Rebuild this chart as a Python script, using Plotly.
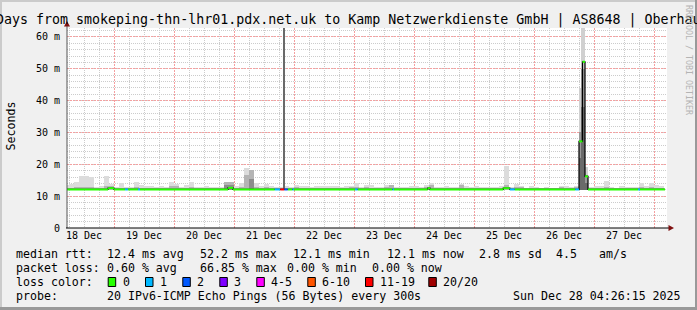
import plotly.graph_objects as go
from datetime import datetime, timedelta

# ---------------- data ----------------
T0 = datetime(2025, 12, 18)          # hours below are counted from 18 Dec 00:00
VIEW_START_H = 5.2
VIEW_END_H = 245.2
Y_MAX = 62.8

SMOKE_FIRST_BIN_H = 4.0               # 2-hour smoke bins
SMOKE_BIN_H = 2.0
SMOKE_FLOOR = 12.0                    # ms, lowest ping

smoke_hi = [
    13.4, 13.8, 14.6, 16.2, 16.2, 16.0, 13.0, 13.2, 16.2, 13.9,
    13.0, 14.1, 13.0, 13.0, 14.3, 13.6, 13.3, 13.3, 13.0, 13.3,
    12.9, 14.3, 13.9, 12.9, 13.6, 14.3, 12.9, 13.0, 13.3, 12.9,
    12.9, 12.9, 14.3, 14.3, 13.1, 14.1, 18.8, 18.1, 14.1, 13.1,
    13.9, 13.3, 12.9, 12.9, 13.1, 12.9, 13.6, 13.1, 13.3, 12.9,
    13.3, 13.3, 13.1, 13.3, 13.1, 12.9, 13.1, 13.1, 14.1, 12.9,
    13.6, 13.6, 12.9, 12.9, 13.6, 13.6, 12.9, 12.9, 12.9, 13.3,
    13.3, 12.9, 13.6, 14.1, 12.9, 12.9, 13.1, 12.9, 12.9, 13.9,
    13.1, 12.9, 13.3, 12.9, 12.9, 12.9, 12.9, 13.3, 19.6, 12.9,
    13.9, 13.1, 12.6, 13.3, 12.9, 12.6, 12.9, 12.6, 12.6, 13.1,
    13.3, 12.9, 13.1, 12.9, 12.9, 12.9, 13.3, 13.1, 14.9, 12.9,
    12.6, 13.1, 12.9, 12.9, 12.9, 14.1, 13.1, 14.1, 13.6, 13.1,
]
smoke_mid = [
    12.5, 12.6, 12.8, 13.0, 13.0, 12.8, 12.5, 12.5, 13.3, 13.3,
    12.5, 12.6, 12.5, 12.5, 12.8, 12.6, 12.5, 12.5, 12.5, 12.5,
    12.5, 13.3, 13.3, 12.5, 12.6, 12.8, 12.5, 12.5, 12.5, 12.5,
    12.5, 12.5, 14.3, 14.3, 12.6, 12.8, 16.5, 18.1, 12.8, 12.5,
    12.8, 12.6, 12.5, 12.5, 12.5, 12.5, 12.8, 12.5, 12.5, 12.5,
    12.6, 12.6, 12.5, 12.6, 12.5, 12.5, 12.6, 13.0, 12.8, 12.5,
    12.8, 12.6, 12.5, 12.5, 12.8, 13.6, 12.5, 12.5, 12.5, 12.6,
    12.6, 12.5, 12.8, 13.6, 12.5, 12.5, 12.5, 12.5, 12.5, 13.5,
    12.5, 12.5, 12.6, 12.5, 12.5, 12.5, 12.5, 12.6, 13.5, 12.5,
    12.8, 13.0, 12.5, 12.6, 12.5, 12.5, 12.5, 12.5, 12.5, 12.9,
    12.6, 12.5, 12.9, 12.5, 12.5, 12.5, 12.6, 12.5, 13.0, 12.5,
    12.5, 12.6, 12.5, 12.5, 12.5, 12.8, 12.5, 12.8, 12.6, 12.5,
]
dark_bins = [32, 33, 37]
dark_tops = [13.5, 13.5, 15.5]

# narrow smoke columns (spikes), hours from 18 Dec 00:00
spike_start_h = [91.6, 209.8, 210.9, 212.4]
spike_end_h = [92.4, 210.9, 212.4, 213.6]
spike_hi = [63.0, 44.0, 63.0, 19.3]
spike_mid = [63.0, 30.0, 50.0, 16.5]
spike_dark = [63.0, 22.0, 38.0, 14.0]

# median rtt, step segments: start hour, value (ms), lost pings (of 20)
med_t = [5.2, 21.6, 24.0, 28.4, 29.6, 33.6, 34.4, 69.6, 71.6, 88.3,
         90.5, 92.1, 93.5, 95.4, 96.0, 120.4, 121.5, 135.4, 136.0, 149.5,
         150.4, 179.7, 182.3, 184.3, 208.5, 210.0, 211.4, 212.4, 213.6, 233.6,
         234.4]
med_v = [12.1, 12.5, 12.1, 12.1, 12.1, 12.1, 12.1, 12.6, 12.1, 12.1,
         12.1, 12.1, 12.1, 12.1, 12.1, 12.1, 12.1, 12.1, 12.1, 12.5,
         12.1, 12.5, 12.1, 12.1, 12.1, 27.2, 52.2, 16.2, 12.1, 12.1,
         12.1]
med_loss = [0, 0, 0, 1, 0, 1, 0, 0, 0, 1,
            15, 2, 0, 1, 0, 1, 0, 1, 0, 0,
            0, 0, 1, 0, 1, 0, 0, 0, 0, 1,
            0]
MED_END_H = 244.4

loss_labels = ["0", "1", "2", "3", "4-5", "6-10", "11-19", "20/20"]
loss_upper = [0, 1, 2, 3, 5, 10, 19, 20]
loss_colors = ["#26ff00", "#00b8ff", "#0059ff", "#7e00ff", "#ff00ff", "#ff5500", "#ff0000", "#a00000"]

y_tickvals = [0, 10, 20, 30, 40, 50, 60]
y_ticktext = ["0", "10 m", "20 m", "30 m", "40 m", "50 m", "60 m"]

title_text = "10 Days from smokeping-thn-lhr01.pdx.net.uk to Kamp Netzwerkdienste GmbH | AS8648 | Oberhausen"
legend_rows = [
    [("median rtt:", 16), ("12.4 ms avg", 107.3), ("52.2 ms max", 200), ("12.1 ms min", 293.3),
     ("12.1 ms now", 386.7), ("2.8 ms sd", 479.3), ("4.5", 556.3), ("am/s", 599.3)],
    [("packet loss:", 16), ("0.60 % avg", 107.3), ("66.85 % max", 200), ("0.00 % min", 286.7),
     ("0.00 % now", 371.7)],
    [("loss color:", 16)],
    [("probe:", 16), ("20 IPv6-ICMP Echo Pings (56 Bytes) every 300s", 107.3),
     ("Sun Dec 28 04:26:15 2025", 513.3)],
]
legend_row_y = [254.3, 268.3, 282.3, 296.0]
loss_label_x = [122.7, 160, 197.3, 234.3, 271.3, 322.3, 380, 443.3]

# ---------------- helpers ----------------
def t(h):
    return T0 + timedelta(hours=h)

L, R, TOP, BOT, W, H = 67, 667, 28, 228, 697, 310
def px(x):
    return (x - L) / (R - L)
def py(y):
    return (BOT - y) / (BOT - TOP)

MONO = "DejaVu Sans Mono"
fig = go.Figure()

# smoke bins
n = len(smoke_hi)
centers = [t(SMOKE_FIRST_BIN_H + SMOKE_BIN_H * (k + 0.5)) for k in range(n)]
wms = SMOKE_BIN_H * 3600 * 1000
fig.add_trace(go.Bar(x=centers, y=[v - SMOKE_FLOOR for v in smoke_hi], base=SMOKE_FLOOR,
                     width=wms, marker=dict(color="#dcdcdc", line=dict(width=0)), hoverinfo="skip"))
fig.add_trace(go.Bar(x=centers, y=[v - SMOKE_FLOOR for v in smoke_mid], base=SMOKE_FLOOR,
                     width=wms, marker=dict(color="#b4b4b4", line=dict(width=0)), hoverinfo="skip"))
fig.add_trace(go.Bar(x=[centers[k] for k in dark_bins], y=[v - SMOKE_FLOOR for v in dark_tops],
                     base=SMOKE_FLOOR, width=wms, marker=dict(color="#8c8c8c", line=dict(width=0)),
                     hoverinfo="skip"))

# spike columns
sc = [t((a + b) / 2) for a, b in zip(spike_start_h, spike_end_h)]
sw = [(b - a) * 3600 * 1000 for a, b in zip(spike_start_h, spike_end_h)]
for vals, col in ((spike_hi, "#d0d0d0"), (spike_mid, "#9a9a9a"), (spike_dark, "#6a6a6a")):
    fig.add_trace(go.Bar(x=sc, y=[v - SMOKE_FLOOR for v in vals], base=SMOKE_FLOOR, width=sw,
                         marker=dict(color=col, line=dict(width=0)), hoverinfo="skip"))

# median: thin black step line (shows the vertical jumps)
fig.add_trace(go.Scatter(x=[t(h) for h in med_t] + [t(MED_END_H)], y=med_v + [med_v[-1]],
                         mode="lines", line=dict(shape="hv", color="#000000", width=1.2),
                         hoverinfo="skip"))

# median coloured by loss
ends = med_t[1:] + [MED_END_H]
def loss_class(lv):
    for i, u in enumerate(loss_upper):
        if lv <= u:
            return i
    return len(loss_upper) - 1
for ci, col in enumerate(loss_colors):
    xs, ys = [], []
    for s, e, v, lv in zip(med_t, ends, med_v, med_loss):
        if loss_class(lv) == ci:
            xs += [t(s), t(e), None]
            ys += [v, v, None]
    if xs:
        fig.add_trace(go.Scatter(x=xs, y=ys, mode="lines", line=dict(color=col, width=2),
                                 hoverinfo="skip"))

# ---------------- layout ----------------
annotations = []
PAD = 2.0   # annotation box padding, compensated so glyphs start at the measured pixel
def ann(text, x, y, size, xanchor="left", angle=0, color="#000000"):
    xx = x - PAD if xanchor == "left" else x
    annotations.append(dict(text=text, x=px(xx), y=py(y), xref="paper", yref="paper",
                            xanchor=xanchor, yanchor="middle", showarrow=False, textangle=angle,
                            font=dict(family=MONO, size=size, color=color)))

ann(title_text, 348.5, 19.5, 13.3, xanchor="center")
ann("Seconds", 10.5, 126, 11.6, xanchor="center", angle=-90)
ann("RRDTOOL / TOBI OETIKER", 689, 60, 8.3, xanchor="center", angle=90, color="#b4b4b4")
for row, yy in zip(legend_rows, legend_row_y):
    for txt, xx in row:
        ann(txt, xx, yy, 11.6)
for lab, xx in zip(loss_labels, loss_label_x):
    ann(lab, xx, legend_row_y[2], 11.6)

shapes = []
def rect(x0, y0, x1, y1, fill, line=None):
    d = dict(type="rect", xref="paper", yref="paper", x0=px(x0), x1=px(x1), y0=py(y1), y1=py(y0),
             fillcolor=fill, layer="above", line=dict(width=0))
    if line:
        d["line"] = dict(color=line, width=1)
    shapes.append(d)

def path(pts, fill):
    s = "M " + " L ".join(f"{px(a):.5f},{py(b):.5f}" for a, b in pts) + " Z"
    shapes.append(dict(type="path", xref="paper", yref="paper", path=s, fillcolor=fill,
                       line=dict(width=0), layer="above"))

# legend colour boxes
for lx, col in zip(loss_label_x, loss_colors):
    rect(lx - 14.5, 277.5, lx - 7.0, 286.5, col, line="#000000")

# border shading
rect(0, 0, W, 2, "#cbcbcb")
rect(0, 0, 2, H, "#cbcbcb")
rect(0, H - 3, W, H, "#999999")
rect(W - 2, 0, W, H, "#999999")

# axis extensions and arrows
shapes.append(dict(type="line", xref="paper", yref="paper", x0=px(67), x1=px(67), y0=py(228),
                   y1=py(24), line=dict(color="#555555", width=1), layer="above"))
shapes.append(dict(type="line", xref="paper", yref="paper", x0=px(66), x1=px(669), y0=py(228),
                   y1=py(228), line=dict(color="#000000", width=1), layer="above"))
path([(64.0, 26.5), (70.0, 26.5), (67.0, 21.0)], "#7f1010")
path([(668.5, 225.0), (668.5, 231.0), (674.0, 228.0)], "#7f1010")

fig.update_layout(
    width=W, height=H, margin=dict(l=L, r=W - R, t=TOP, b=H - BOT),
    paper_bgcolor="#f0f0f0", plot_bgcolor="#ffffff", showlegend=False,
    barmode="overlay", bargap=0,
    annotations=annotations, shapes=shapes,
    xaxis=dict(type="date", range=[t(VIEW_START_H), t(VIEW_END_H)],
               dtick=86400000, tick0="2025-12-18", ticklabelmode="period", tickformat="%d %b",
               showgrid=True, gridcolor="#f4a0a0", griddash="2px,1px", gridwidth=1,
               minor=dict(dtick=21600000, tick0="2025-12-18", showgrid=True,
                          gridcolor="#cccccc", griddash="1px,1px", gridwidth=1),
               showline=False, zeroline=False, ticks="",
               tickfont=dict(family=MONO, size=10, color="#000000")),
    yaxis=dict(range=[0, Y_MAX], tickvals=y_tickvals, ticktext=y_ticktext,
               showgrid=True, gridcolor="#f4a0a0", griddash="2px,1px", gridwidth=1,
               minor=dict(dtick=2, showgrid=True, gridcolor="#cccccc", griddash="1px,1px",
                          gridwidth=1),
               showline=False, zeroline=False, ticks="outside", ticklen=4,
               tickcolor="rgba(0,0,0,0)",
               tickfont=dict(family=MONO, size=10, color="#000000")),
)

fig.write_html("out.html")
